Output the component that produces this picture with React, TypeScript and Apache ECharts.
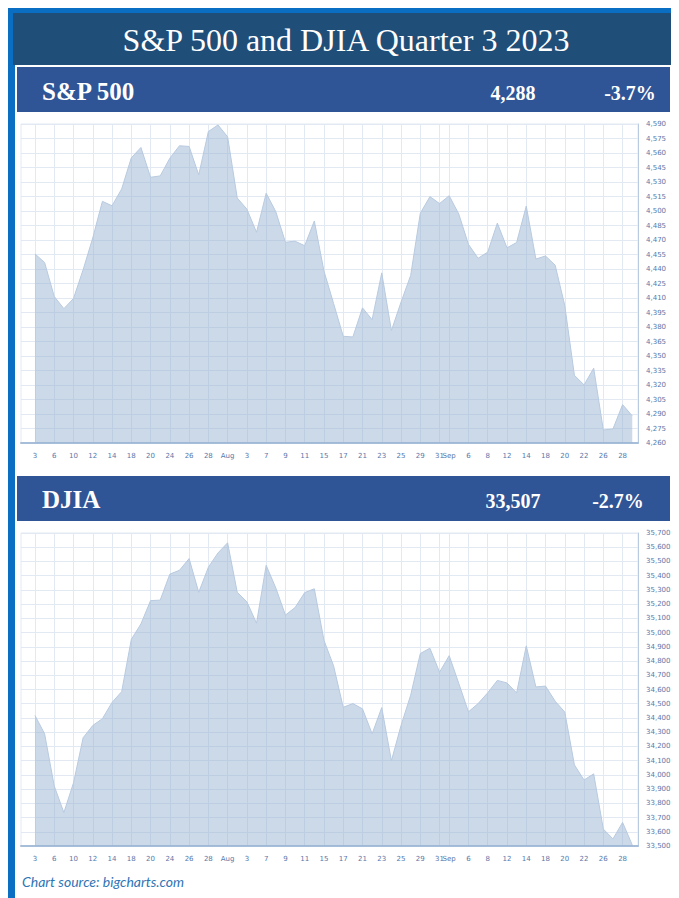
import React, { useEffect, useRef } from "react";
import * as echarts from "echarts";

// Trading-day tick positions (index into the daily series) and their labels
const tickIdx = [0, 2, 4, 6, 8, 10, 12, 14, 16, 18, 20, 22, 24, 26, 28, 30, 32, 34, 36, 38, 40, 42, 43, 45, 47, 49, 51, 53, 55, 57, 59, 61];
const tickLabels = ["3", "6", "10", "12", "14", "18", "20", "24", "26", "28", "Aug", "3", "7", "9", "11", "15", "17", "21", "23", "25", "29", "31", "Sep", "6", "8", "12", "14", "18", "20", "22", "26", "28"];

// S&P 500 daily closes, Jul 3 – Sep 29 2023
const spxValues = [
  4455.6, 4446.8, 4411.6, 4399.0, 4409.5, 4439.3, 4472.2, 4510.0, 4505.4, 4522.8,
  4555.0, 4565.7, 4534.9, 4536.3, 4554.6, 4567.5, 4566.8, 4537.4, 4582.2, 4589.0,
  4576.7, 4513.4, 4501.9, 4478.0, 4518.4, 4499.4, 4467.7, 4468.8, 4464.1, 4489.7,
  4437.9, 4404.3, 4370.4, 4369.7, 4399.8, 4387.6, 4436.0, 4376.3, 4405.7, 4433.3,
  4497.6, 4514.9, 4507.7, 4515.8, 4496.8, 4465.5, 4451.1, 4457.5, 4487.5, 4461.9,
  4467.4, 4505.1, 4450.3, 4453.5, 4444.0, 4402.2, 4330.0, 4320.1, 4337.4, 4273.5,
  4274.5, 4299.7, 4288.1,
];

// DJIA daily closes, Jul 3 – Sep 29 2023
const djiaValues = [
  34418, 34289, 33922, 33735, 33944, 34261, 34347, 34395, 34509, 34585,
  34952, 35061, 35225, 35228, 35411, 35438, 35520, 35283, 35459, 35560,
  35631, 35283, 35216, 35066, 35473, 35314, 35123, 35176, 35281, 35308,
  34946, 34766, 34475, 34501, 34464, 34289, 34473, 34099, 34347, 34560,
  34853, 34890, 34722, 34838, 34642, 34443, 34501, 34577, 34664, 34646,
  34576, 34907, 34618, 34624, 34518, 34441, 34070, 33964, 34007, 33619,
  33550, 33666, 33508,
];

const spxAxis = { min: 4260, max: 4590, step: 15 };
const djiaAxis = { min: 33500, max: 35700, step: 100 };

const title = "S&P 500 and DJIA Quarter 3 2023";
const panels = [
  { name: "S&P 500", last: "4,288", change: "-3.7%" },
  { name: "DJIA", last: "33,507", change: "-2.7%" },
];
const source = "Chart source: bigcharts.com";

const LABEL_COLOR = "#5877AA";
const GRID_LINE = "#E2E9F3";

export default function App() {
  const ref = useRef<HTMLDivElement>(null);

  useEffect(() => {
    if (!ref.current) return;
    const chart = echarts.init(ref.current, null, { renderer: "svg" });

    const fmtNum = (v: number) => v.toLocaleString("en-US");

    const makeX = (gridIndex: number) => ({
      type: "value",
      gridIndex,
      min: -1.45,
      max: 62.6,
      axisLine: { show: true, onZero: false, lineStyle: { color: "#A7BEDA", width: 2 } },
      axisTick: { show: false, customValues: tickIdx },
      axisLabel: {
        customValues: tickIdx,
        formatter: (v: number) => {
          const k = tickIdx.indexOf(Math.round(v));
          return k >= 0 ? tickLabels[k] : "";
        },
        fontSize: 7,
        color: LABEL_COLOR,
        fontFamily: "DejaVu Sans",
        margin: 9,
      },
      splitLine: { show: true, lineStyle: { color: GRID_LINE, width: 1 } },
    });

    const makeY = (gridIndex: number, ax: { min: number; max: number; step: number }) => ({
      type: "value",
      gridIndex,
      position: "right",
      min: ax.min,
      max: ax.max,
      interval: ax.step,
      axisLine: { show: true, onZero: false, lineStyle: { color: "#B9CBE0", width: 1 } },
      axisTick: { show: false },
      axisLabel: {
        formatter: (v: number) => fmtNum(v),
        fontSize: 7,
        color: LABEL_COLOR,
        fontFamily: "DejaVu Sans",
        margin: 8,
      },
      splitLine: { show: true, lineStyle: { color: GRID_LINE, width: 1 } },
    });

    const makeSeries = (idx: number, vals: number[]) => ({
      type: "line",
      xAxisIndex: idx,
      yAxisIndex: idx,
      data: vals.map((v, i) => [i, v]),
      showSymbol: false,
      symbol: "none",
      lineStyle: { color: "#B8CAE0", width: 1 },
      areaStyle: { color: "#99B3D1", opacity: 0.5, origin: "start" },
      z: 1,
    });

    const headerText = (y: number, p: { name: string; last: string; change: string }, lastX: number, chgX: number) => [
      {
        type: "text",
        x: 34,
        y: y,
        style: { text: p.name, fill: "#FFFFFF", font: "bold 25px 'Liberation Serif'", verticalAlign: "middle" },
      },
      {
        type: "text",
        x: lastX,
        y: y + 2,
        style: { text: p.last, fill: "#FFFFFF", font: "bold 20px 'Liberation Serif'", align: "center", verticalAlign: "middle" },
      },
      {
        type: "text",
        x: chgX,
        y: y + 2,
        style: { text: p.change, fill: "#FFFFFF", font: "bold 20px 'Liberation Serif'", align: "center", verticalAlign: "middle" },
      },
    ];

    chart.setOption({
      animation: false,
      grid: [
        { left: 13, width: 617, top: 116, height: 319, show: true, borderColor: GRID_LINE, borderWidth: 1, backgroundColor: "#FFFFFF" },
        { left: 13, width: 617, top: 525, height: 313, show: true, borderColor: GRID_LINE, borderWidth: 1, backgroundColor: "#FFFFFF" },
      ],
      xAxis: [makeX(0), makeX(1)],
      yAxis: [makeY(0, spxAxis), makeY(1, djiaAxis)],
      series: [makeSeries(0, spxValues), makeSeries(1, djiaValues)],
      graphic: [
        { type: "rect", shape: { x: 0, y: 0, width: 671, height: 890 }, style: { fill: "#0A6FC2" }, z: -10, silent: true },
        { type: "rect", shape: { x: 7, y: 5, width: 661, height: 885 }, style: { fill: "#FFFFFF" }, z: -9, silent: true },
        { type: "rect", shape: { x: 5, y: 5, width: 662, height: 52 }, style: { fill: "#1F4E79" }, z: -8, silent: true },
        { type: "rect", shape: { x: 9, y: 59, width: 653, height: 45 }, style: { fill: "#2F5597" }, z: -8, silent: true },
        { type: "rect", shape: { x: 9, y: 468, width: 653, height: 45 }, style: { fill: "#2F5597" }, z: -8, silent: true },
        {
          type: "text",
          x: 338,
          y: 32,
          style: { text: title, fill: "#FFFFFF", font: "32px 'Liberation Serif'", align: "center", verticalAlign: "middle" },
        },
        ...headerText(83, panels[0], 505, 622),
        ...headerText(491, panels[1], 505, 610),
        {
          type: "text",
          left: 14,
          top: 866,
          style: { text: source, fill: "#2E75B6", font: "italic 14px Lato" },
        },
      ],
    });

    return () => chart.dispose();
  }, []);

  return <div ref={ref} style={{ width: 671, height: 890 }} />;
}
